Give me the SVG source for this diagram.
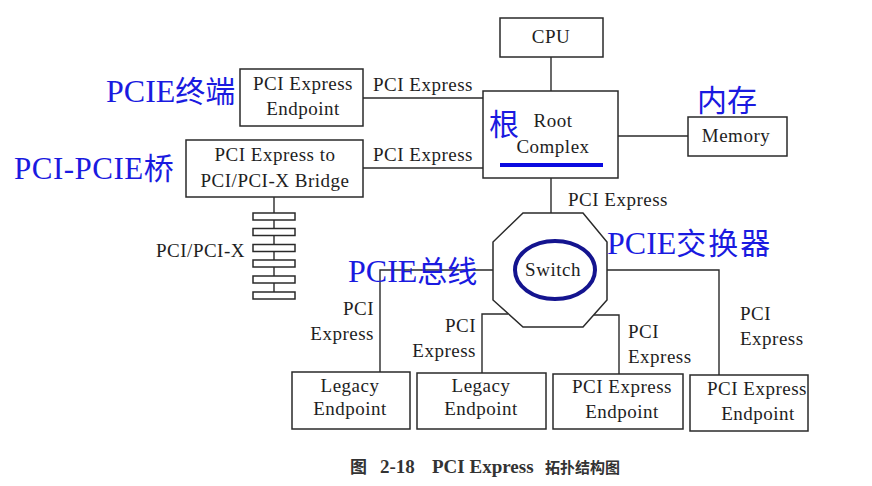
<svg xmlns="http://www.w3.org/2000/svg" width="872" height="486" viewBox="0 0 872 486">
<style>
.box{fill:#fff;stroke:#2a2a2a;stroke-width:1.5}
.ln{fill:none;stroke:#2a2a2a;stroke-width:1.4}
.t{font-family:"Liberation Serif","Times New Roman",serif;font-size:19px;fill:#1e1e1e;letter-spacing:0.5px}
.c{text-anchor:middle}
.e{text-anchor:end}
.blue{font-family:"Liberation Serif","Noto Sans CJK SC",serif;font-size:30px;fill:#1a1ae0}
.lat{font-family:"Liberation Serif","Times New Roman",serif}
.cjk{font-family:"Noto Sans CJK SC","Noto Sans CJK TC",sans-serif}
.cap{font-family:"Liberation Serif","Noto Sans CJK SC",serif;font-weight:bold;fill:#333}
</style>
<rect width="872" height="486" fill="#fff"/>
<g id="connectors">
<line class="ln" x1="551" y1="57" x2="551" y2="91"/>
<line class="ln" x1="363" y1="98" x2="483" y2="98"/>
<line class="ln" x1="363" y1="168" x2="483" y2="168"/>
<line class="ln" x1="618" y1="136" x2="688" y2="136"/>
<line class="ln" x1="551" y1="178" x2="551" y2="213"/>
<polyline class="ln" points="493,270 380,270 380,372"/>
<polyline class="ln" points="508,314 482,314 482,373"/>
<polyline class="ln" points="594,315 619,315 619,374"/>
<polyline class="ln" points="607,270 719,270 719,375"/>
<line class="ln" x1="274" y1="197" x2="274" y2="299"/>
<text class="t" x="373" y="91">PCI Express</text>
<text class="t" x="373" y="161">PCI Express</text>
<text class="t" x="568" y="206">PCI Express</text>
<text class="t e" x="374" y="315">PCI</text>
<text class="t e" x="374" y="340">Express</text>
<text class="t e" x="476" y="332">PCI</text>
<text class="t e" x="476" y="357">Express</text>
<text class="t" x="628" y="338">PCI</text>
<text class="t" x="628" y="363">Express</text>
<text class="t" x="740" y="320">PCI</text>
<text class="t" x="740" y="345">Express</text>
</g>
<g id="cpu">
<rect class="box" x="500" y="18" width="103" height="39"/>
<text class="t c" x="551" y="43">CPU</text>
</g>
<g id="root">
<rect class="box" x="483" y="91" width="135" height="87"/>
<text class="t c" x="553" y="127">Root</text>
<text class="t c" x="553" y="153">Complex</text>
<rect x="500" y="163" width="103" height="4" fill="#0a0ae0"/>
<text class="blue cjk" x="489" y="135" font-size="31">根</text>
</g>
<g id="memory">
<rect class="box" x="688" y="117" width="99" height="39"/>
<text class="t c" x="736" y="142">Memory</text>
<text class="blue cjk" x="697" y="111">内存</text>
</g>
<g id="endpoint-top">
<rect class="box" x="240" y="69" width="123" height="57"/>
<text class="t c" x="303" y="90">PCI Express</text>
<text class="t c" x="303" y="115">Endpoint</text>
<text class="blue" x="106" y="102"><tspan class="lat" font-size="32">PCIE</tspan><tspan class="cjk">终端</tspan></text>
</g>
<g id="bridge">
<rect class="box" x="186" y="140" width="177" height="57"/>
<text class="t c" x="275" y="161">PCI Express to</text>
<text class="t c" x="275" y="187">PCI/PCI-X Bridge</text>
<text class="blue" x="14" y="179"><tspan class="lat" font-size="31" letter-spacing="0.5">PCI-PCIE</tspan><tspan class="cjk">桥</tspan></text>
</g>
<g id="pci-bus">
<rect class="box" x="253" y="213" width="42" height="7"/>
<rect class="box" x="253" y="228.5" width="42" height="7"/>
<rect class="box" x="253" y="244.5" width="42" height="7"/>
<rect class="box" x="253" y="260" width="42" height="7"/>
<rect class="box" x="253" y="276" width="42" height="7"/>
<rect class="box" x="253" y="292" width="42" height="7"/>
<text class="t e" x="245" y="257">PCI/PCI-X</text>
</g>
<g id="switch">
<polygon class="box" points="523,213 583,213 607,242 607,300 583,327 523,327 493,300 493,242"/>
<ellipse cx="555" cy="270" rx="40" ry="29" fill="none" stroke="#14148f" stroke-width="4"/>
<text class="t c" x="553" y="276" font-size="20">Switch</text>
<text class="blue" x="607" y="254"><tspan class="lat" font-size="32">PCIE</tspan><tspan class="cjk" letter-spacing="2">交换器</tspan></text>
<text class="blue" x="348" y="282"><tspan class="lat" font-size="32">PCIE</tspan><tspan class="cjk">总线</tspan></text>
</g>
<g id="legacy1">
<rect class="box" x="292" y="372" width="118" height="57"/>
<text class="t c" x="350" y="392">Legacy</text>
<text class="t c" x="350" y="415">Endpoint</text>
</g>
<g id="legacy2">
<rect class="box" x="417" y="373" width="129" height="56"/>
<text class="t c" x="481" y="392">Legacy</text>
<text class="t c" x="481" y="415">Endpoint</text>
</g>
<g id="endpoint3">
<rect class="box" x="553" y="374" width="130" height="55"/>
<text class="t c" x="622" y="393">PCI Express</text>
<text class="t c" x="622" y="418">Endpoint</text>
</g>
<g id="endpoint4">
<rect class="box" x="690" y="375" width="118" height="56"/>
<text class="t" x="707" y="395">PCI Express</text>
<text class="t c" x="758" y="420">Endpoint</text>
</g>
<g id="caption">
<text class="cap" x="350" y="473" font-size="17"><tspan>图</tspan><tspan x="380" font-size="19">2-18</tspan><tspan x="432" font-size="19">PCI Express</tspan><tspan x="545" font-size="15">拓扑结构图</tspan></text>
</g>
</svg>
